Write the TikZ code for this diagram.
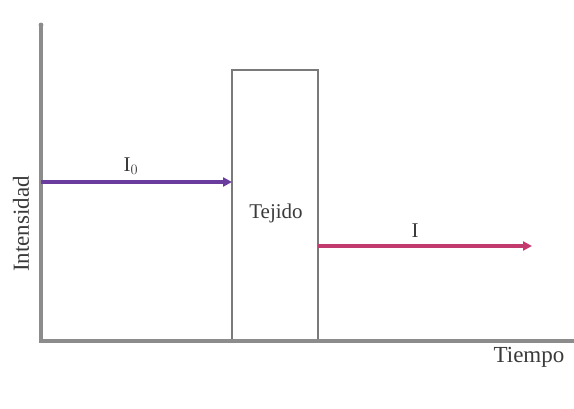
\documentclass[tikz,border=0pt]{standalone}
\usepackage{fontspec}
\setmainfont{Liberation Serif}
\usetikzlibrary{arrows.meta}
\definecolor{axisgray}{HTML}{8C8C8C}
\definecolor{boxgray}{HTML}{7A7A7A}
\definecolor{inpurple}{HTML}{6A3C9E}
\definecolor{outred}{HTML}{C23A6E}
\definecolor{txt}{HTML}{3A3A3A}
\tikzset{
  axisline/.style={draw=axisgray, line width=3.4pt},
  tissue/.style={draw=boxgray, line width=2.6pt, fill=white},
  beam/.style={line width=3.6pt, -{Triangle[length=9pt,width=9pt]}},
  lbl/.style={text=txt, font=\fontsize{21}{24}\selectfont, inner sep=0pt}
}
\begin{document}
\begin{tikzpicture}[x=1pt,y=-1pt]
\useasboundingbox (0,0) rectangle (574,409);
\coordinate (origin) at (41,341);
\coordinate (ytop) at (41,25);
\coordinate (xend) at (574,341);
\draw[tissue] (232,70) rectangle (318,341);
\node[minimum width=86pt, minimum height=271pt, inner sep=0pt, anchor=north west] (tejido) at (232,70) {};
\draw[axisline] (ytop) -- (origin) -- (xend);
\fill[axisgray] (ytop) circle (2.4pt);
\coordinate (i0start) at (41,182);
\coordinate (iend) at (532,246);
\draw[beam, inpurple] (i0start) -- (tejido.west |- i0start);
\draw[beam, outred] (tejido.east |- iend) -- (iend);
\node[lbl] (l0) at (131,166) {I$_0$};
\node[lbl] (l1) at (415,231) {I};
\node[lbl] (ltej) at (276,213) {Tejido};
\node[lbl, rotate=90, font=\fontsize{23}{26}\selectfont] (lint) at (21,224) {Intensidad};
\node[lbl, font=\fontsize{23}{26}\selectfont] (ltiem) at (529,357) {Tiempo};
\end{tikzpicture}
\end{document}
